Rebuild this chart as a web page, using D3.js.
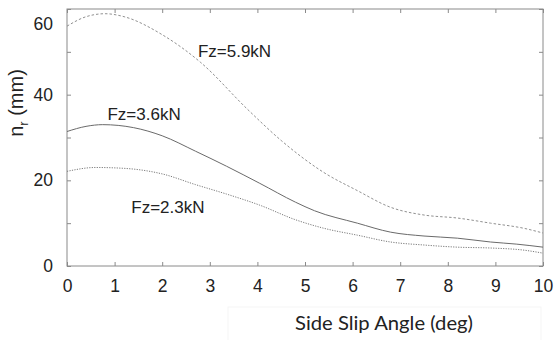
<!DOCTYPE html>
<html>
<head>
<meta charset="utf-8">
<script src="https://cdn.jsdelivr.net/npm/d3@7"></script>
<style>
  body { margin: 0; background: #fff; }
  svg { display: block; }
</style>
</head>
<body>
<div id="chart"></div>
<script>
// side slip angle (deg) vs n_r (mm)
const fz59 = [[0,56],[0.4,58.2],[0.8,58.9],[1.2,58.2],[2,54],[2.8,47.6],[3.8,36.5],[4.5,29.3],[5.4,21.8],[6.1,17.6],[6.8,13.7],[7.5,11.9],[8.2,11.2],[8.9,10],[9.6,8.8],[10,7.7]]
const fz36 = [[0,31.4],[0.4,32.6],[0.75,33],[1.4,32.3],[2,30.4],[2.7,26.8],[3.35,23.3],[4.05,19.3],[4.8,14.9],[5.2,12.9],[6.1,10],[6.8,7.9],[7.5,7],[8.2,6.5],[8.9,5.6],[9.45,5.1],[10,4.4]]
const fz23 = [[0,22.1],[0.6,23],[1.2,22.8],[2,21.5],[2.7,19],[3.35,16.8],[4.05,14.2],[4.8,10.8],[5.4,8.8],[6.1,7.2],[6.8,5.6],[7.5,4.9],[8.2,4.4],[8.9,4.2],[9.6,3.7],[10,3.0]]

const seriesLabels = ["Fz=5.9kN", "Fz=3.6kN", "Fz=2.3kN"]
const labelPos = [[2.75, 50.2], [0.85, 35.5], [1.35, 13.8]]   // data coords of label start
const xTicks = [0,1,2,3,4,5,6,7,8,9,10]
const yTicks = [0,20,40,60]
const yMinor = [0,10,20,30,40,50,60]

const width = 556, height = 340
const margin = {top: 9, right: 13, bottom: 74, left: 67}
const font = "'Liberation Sans', Arial, sans-serif"

const svg = d3.select("#chart").append("svg")
    .attr("width", width).attr("height", height)

const x = d3.scaleLinear().domain([0, 10]).range([margin.left, width - margin.right])
const y = d3.scaleLinear().domain([0, 60]).range([height - margin.bottom, margin.top])

const frameCol = "#8a8a8a"

// inward ticks on all four sides
svg.append("g").attr("transform", `translate(0,${y(0)})`)
   .call(d3.axisBottom(x).tickValues(xTicks).tickSize(-4).tickPadding(14).tickFormat(d3.format("d")))
   .call(g => g.select(".domain").remove())
svg.append("g").attr("transform", `translate(0,${y(60)})`)
   .call(d3.axisTop(x).tickValues(xTicks).tickSize(-4).tickFormat(""))
   .call(g => g.select(".domain").remove())
svg.append("g").attr("transform", `translate(${x(0)},0)`)
   .call(d3.axisLeft(y).tickValues(yMinor).tickSize(-4).tickPadding(14)
         .tickFormat(d => yTicks.includes(d) ? d : ""))
   .call(g => g.select(".domain").remove())
svg.append("g").attr("transform", `translate(${x(10)},0)`)
   .call(d3.axisRight(y).tickValues(yMinor).tickSize(-4).tickFormat(""))
   .call(g => g.select(".domain").remove())

svg.selectAll(".tick line").attr("stroke", frameCol)
svg.selectAll(".tick text").attr("font-size", 17.5).attr("fill", "#222")
    .attr("font-family", font)
// the "60" label sits lower than its tick in the original
svg.selectAll(".tick text").filter(d => d === 60).attr("dy", "1.15em")

svg.append("rect")
   .attr("x", x(0)).attr("y", y(60))
   .attr("width", x(10) - x(0)).attr("height", y(0) - y(60))
   .attr("fill", "none").attr("stroke", frameCol).attr("stroke-width", 1)

const line = d3.line()
    .curve(d3.curveMonotoneX)
    .x(d => x(d[0]))
    .y(d => y(d[1]))

const styles = [
  {data: fz59, dash: "2.5,2", col: "#909090"},
  {data: fz36, dash: null, col: "#6a6a6a"},
  {data: fz23, dash: "1.2,1.3", col: "#7a7a7a"}
]
styles.forEach(s => {
  svg.append("path").datum(s.data)
     .attr("fill", "none")
     .attr("stroke", s.col)
     .attr("stroke-width", 1)
     .attr("stroke-dasharray", s.dash)
     .attr("d", line)
})

seriesLabels.forEach((t, i) => {
  svg.append("text")
     .attr("x", x(labelPos[i][0])).attr("y", y(labelPos[i][1]))
     .attr("dy", "0.35em")
     .attr("font-family", font)
     .attr("font-size", 17).attr("fill", "#222")
     .text(t)
})

// y title
const yt = svg.append("text")
   .attr("transform", `translate(23,103) rotate(-90)`)
   .attr("text-anchor", "middle")
   .attr("font-family", font)
   .attr("font-size", 20).attr("fill", "#222")
yt.append("tspan").text("n")
yt.append("tspan").attr("font-size", 13).attr("dy", 5).text("r")
yt.append("tspan").attr("dy", -5).text(" (mm)")

// x title with its faint box
svg.append("rect")
   .attr("x", 228).attr("y", 307).attr("width", 313).attr("height", 40)
   .attr("fill", "none").attr("stroke", "#f5f5f5")
svg.append("text")
   .attr("x", 384).attr("y", 330)
   .attr("text-anchor", "middle")
   .attr("font-family", "Lato, 'Open Sans', sans-serif")
   .attr("font-size", 19).attr("fill", "#222")
   .attr("textLength", 178).attr("lengthAdjust", "spacingAndGlyphs")
   .text("Side Slip Angle (deg)")
</script>
</body>
</html>
